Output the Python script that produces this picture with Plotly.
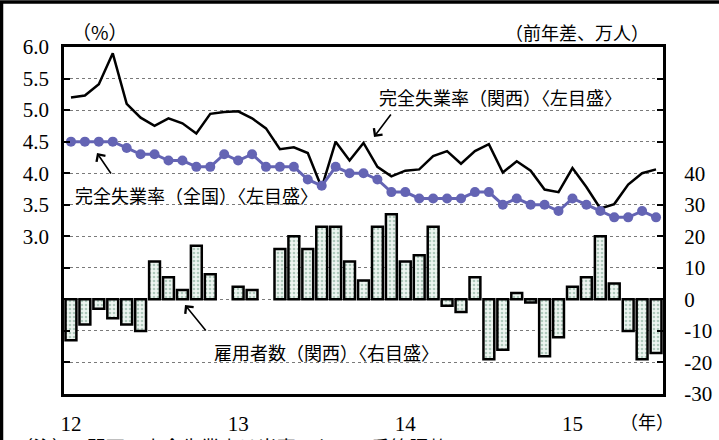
import plotly.graph_objects as go

# ---------------- data ----------------
months = [
    "2012/01", "2012/02", "2012/03", "2012/04", "2012/05", "2012/06",
    "2012/07", "2012/08", "2012/09", "2012/10", "2012/11", "2012/12",
    "2013/01", "2013/02", "2013/03", "2013/04", "2013/05", "2013/06",
    "2013/07", "2013/08", "2013/09", "2013/10", "2013/11", "2013/12",
    "2014/01", "2014/02", "2014/03", "2014/04", "2014/05", "2014/06",
    "2014/07", "2014/08", "2014/09", "2014/10", "2014/11", "2014/12",
    "2015/01", "2015/02", "2015/03", "2015/04", "2015/05", "2015/06",
    "2015/07",
]
year_ticks = ["2012/01", "2013/01", "2014/01", "2015/01"]
year_labels = ["12", "13", "14", "15"]

kansai_rate = [5.20, 5.23, 5.41, 5.90, 5.10, 4.88, 4.75, 4.87, 4.79, 4.63,
               4.94, 4.97, 4.98, 4.87, 4.71, 4.38, 4.41, 4.32, 3.77, 4.50,
               4.20, 4.48, 4.10, 3.95, 4.04, 4.06, 4.27, 4.35, 4.15, 4.35,
               4.46, 4.01, 4.19, 4.04, 3.74, 3.70, 4.08, 3.78, 3.44, 3.51,
               3.82, 4.00, 4.06]
national_rate = [4.5, 4.5, 4.5, 4.5, 4.4, 4.3, 4.3, 4.2, 4.2, 4.1,
                 4.1, 4.3, 4.2, 4.3, 4.1, 4.1, 4.1, 3.9, 3.8, 4.1,
                 4.0, 4.0, 3.9, 3.7, 3.7, 3.6, 3.6, 3.6, 3.6, 3.7,
                 3.7, 3.5, 3.6, 3.5, 3.5, 3.4, 3.6, 3.5, 3.4, 3.3,
                 3.3, 3.4, 3.3]
kansai_employees = [-13, -8, -3, -6, -8, -10, 12, 7, 3, 17, 8, None,
                    4, 3, None, 16, 20, 16, 23, 23, 12, 6, 23, 27,
                    12, 14, 23, -2, -4, 7, -19, -16, 2, -1, -18, -12,
                    4, 7, 20, 5, -10, -19, -17]

left_ticks = [1.0, 1.5, 2.0, 2.5, 3.0, 3.5, 4.0, 4.5, 5.0, 5.5, 6.0]
left_labels = ["", "", "", "", "3.0", "3.5", "4.0", "4.5", "5.0", "5.5", "6.0"]
right_ticks = [-30, -20, -10, 0, 10, 20, 30, 40, 50, 60, 70, 80]
right_labels = ["-30", "-20", "-10", "0", "10", "20", "30", "40", "", "", "", ""]

# ---------------- layout geometry ----------------
W, H = 719, 440
L, R, T, B = 64, 663, 47, 394


def px(x):
    return (x - L) / (R - L)


def py(y):
    return (B - y) / (B - T)


SERIF = "Liberation Serif, Times New Roman, serif"
CJK = "Noto Sans CJK JP, sans-serif"

fig = go.Figure()

fig.add_trace(go.Bar(
    x=months, y=kansai_employees, yaxis="y",
    width=0.78,
    marker=dict(
        color="#eef5f1",
        line=dict(color="black", width=2.5),
        pattern=dict(shape=".", fgcolor="#6f9e88", bgcolor="#eef5f1",
                     size=4, solidity=0.35),
    ),
    name="雇用者数(関西)",
))

fig.add_trace(go.Scatter(
    x=months, y=kansai_rate, yaxis="y2", mode="lines",
    line=dict(color="black", width=2.5),
    name="完全失業率(関西)",
))

fig.add_trace(go.Scatter(
    x=months, y=national_rate, yaxis="y2", mode="lines+markers",
    line=dict(color="#6464b4", width=3),
    marker=dict(color="#6464b4", size=10),
    name="完全失業率(全国)",
))

annotations = [
    dict(text="（%）", x=px(100), y=py(32), font=dict(family=CJK, size=19)),
    dict(text="（前年差、万人）", x=px(577), y=py(32), font=dict(family=CJK, size=18)),
    dict(text="完全失業率（関西）〈左目盛〉", x=px(500), y=py(97), font=dict(family=CJK, size=18)),
    dict(text="完全失業率（全国）〈左目盛〉", x=px(196), y=py(195), font=dict(family=CJK, size=18)),
    dict(text="雇用者数（関西）〈右目盛〉", x=px(326), y=py(352), font=dict(family=CJK, size=18)),
    dict(text="（年）", x=px(647), y=py(421), font=dict(family=CJK, size=18)),
    dict(text="（注）1.関西の完全失業率は当室において季節調整", x=px(12), y=py(431),
         xanchor="left", yanchor="top", font=dict(family=CJK, size=19)),
]
for a in annotations:
    a.update(xref="paper", yref="paper", showarrow=False)
    a.setdefault("xanchor", "center")
    a.setdefault("yanchor", "middle")
    a["font"]["color"] = "black"

arrows = [
    (374, 137, 18, -24),
    (97, 153, 15, 22),
    (185, 305, 22, 27),
]
for tx, ty, dx, dy in arrows:
    annotations.append(dict(
        x=px(tx), y=py(ty), xref="paper", yref="paper", text="",
        showarrow=True, ax=dx, ay=dy, arrowhead=4, arrowsize=1.3,
        arrowwidth=1.6, arrowcolor="black", standoff=0,
    ))

fig.update_layout(
    width=W, height=H,
    margin=dict(l=L, r=W - R, t=T, b=H - B, autoexpand=False),
    paper_bgcolor="white", plot_bgcolor="white",
    showlegend=False,
    xaxis=dict(
        type="category", range=[-0.5, len(months) - 0.5],
        tickmode="array", tickvals=year_ticks, ticktext=year_labels,
        ticks="", showgrid=False, zeroline=False,
        showline=True, linecolor="black", linewidth=3, mirror=True,
        tickfont=dict(family=SERIF, size=21, color="black"),
        ticklabelstandoff=9,
    ),
    yaxis=dict(
        side="right", range=[-30, 80],
        tickmode="array", tickvals=right_ticks, ticktext=right_labels,
        ticks="inside", ticklen=6, tickwidth=2, tickcolor="black",
        showgrid=True, gridcolor="#7a7a7a", griddash="dot", gridwidth=1,
        zeroline=False,
        showline=True, linecolor="black", linewidth=3, mirror=True,
        tickfont=dict(family=SERIF, size=21, color="black"),
        ticklabelstandoff=14,
    ),
    yaxis2=dict(
        overlaying="y", side="left", range=[0.5, 6.0],
        tickmode="array", tickvals=left_ticks, ticktext=left_labels,
        ticks="inside", ticklen=6, tickwidth=2, tickcolor="black",
        showgrid=False, zeroline=False, showline=False,
        tickfont=dict(family=SERIF, size=21, color="black"),
        ticklabelstandoff=14,
    ),
    annotations=annotations,
    shapes=[dict(
        type="rect", xref="paper", yref="paper",
        x0=px(1.5), x1=px(730), y0=py(460), y1=py(2),
        line=dict(color="black", width=3.5), fillcolor="rgba(0,0,0,0)",
        layer="above",
    )],
)

fig.write_html("out.html",
               config={"displayModeBar": False},
               post_script="document.body.style.margin='0';"
                           "document.body.style.overflow='hidden';")
